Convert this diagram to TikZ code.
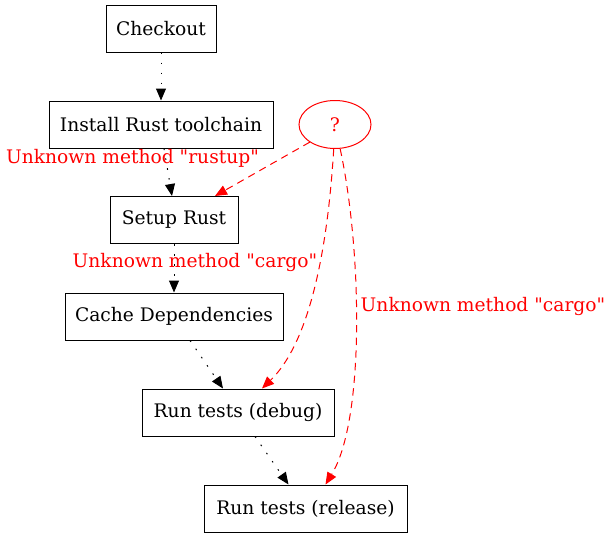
\documentclass[tikz,border=0pt]{standalone}
\usepackage{fontspec}
\newfontfamily\lblfont{DejaVu Serif}
\usetikzlibrary{arrows.meta,shapes.geometric,calc}
\begin{document}
\begin{tikzpicture}[x=0.75pt,y=-0.75pt, line width=0.75pt,
  box/.style={draw, rectangle, inner sep=0pt, minimum height=35.25pt, font=\lblfont\fontsize{14}{16}\selectfont},
  qnode/.style={draw=red, ellipse, inner sep=0pt, minimum width=54pt, minimum height=36pt, text=red, font=\lblfont\fontsize{14}{16}\selectfont},
  lbl/.style={text=red, inner sep=0pt, font=\lblfont\fontsize{14}{16}\selectfont},
  dep/.style={draw=black, dash pattern=on 1.2pt off 6.3pt, -{Triangle[length=9pt,width=7.5pt]}},
  unk/.style={draw=red, dash pattern=on 5.5pt off 4pt, -{Triangle[length=9pt,width=7.5pt,fill=red]}}]
\useasboundingbox (0,0) rectangle (611,539);
\node[box, minimum width=82.5pt] (co) at (161,28.5) {Checkout};
\node[box, minimum width=168pt] (ir) at (161,124.5) {Install Rust toolchain};
\node[qnode] (q) at (335,124.5) {?};
\node[box, minimum width=96pt] (sr) at (174,220) {Setup Rust};
\node[box, minimum width=163.5pt] (cd) at (174,316.5) {Cache Dependencies};
\node[box, minimum width=144pt] (dbg) at (238,412.5) {Run tests (debug)};
\node[box, minimum width=152.25pt] (rel) at (305.5,508.5) {Run tests (release)};
\node[lbl] (l1) at (132.5,158) {Unknown method "rustup"};
\node[lbl] (l2) at (195,262) {Unknown method "cargo"};
\node[lbl] (l3) at (483,306) {Unknown method "cargo"};
\draw[dep] (co) -- (ir);
\draw[dep] ($(ir.south)+(3,0)$) -- ($(sr.north)+(-2,0)$);
\draw[dep] (sr) -- (cd);
\draw[dep] ($(cd.south)+(16,0)$) -- ($(dbg.north)+(-15,0)$);
\draw[dep] ($(dbg.south)+(17,0)$) -- ($(rel.north)+(-17,0)$);
\draw[unk] (q.-145) -- ($(sr.north)+(41,0)$);
\draw[unk] (q.-93) .. controls (327,260) and (307,345) .. ($(dbg.north)+(24,0)$);
\draw[unk] (q.-78) .. controls (362,250) and (365,420) .. ($(rel.north)+(20,0)$);
\end{tikzpicture}
\end{document}
